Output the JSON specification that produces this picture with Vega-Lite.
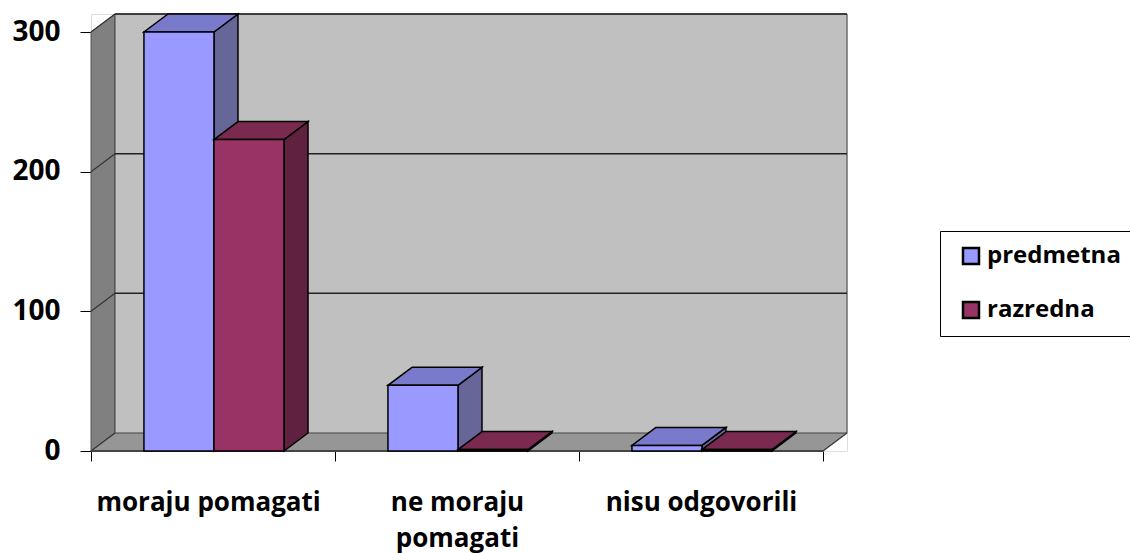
{
"$schema":"https://vega.github.io/schema/vega-lite/v6.json",
"width":756,"height":437,
"autosize":{"type":"none"},
"padding":{"left":91,"top":14,"right":283,"bottom":102},
"background":"white",
"data":{"values":[
{"category":"moraju pomagati","series":"predmetna","value":300},
{"category":"moraju pomagati","series":"razredna","value":223},
{"category":"ne moraju pomagati","series":"predmetna","value":47},
{"category":"ne moraju pomagati","series":"razredna","value":1},
{"category":"nisu odgovorili","series":"predmetna","value":4},
{"category":"nisu odgovorili","series":"razredna","value":1}
]},
"transform":[
{"calculate":"indexof(['moraju pomagati','ne moraju pomagati','nisu odgovorili'],datum.category)+(datum.series==='predmetna'?0.217:0.504)","as":"xl"},
{"calculate":"datum.xl+0.287","as":"xr"},
{"calculate":"[0,1]","as":"t"},
{"flatten":["t"]},
{"calculate":"datum.xr+datum.t*0.0984","as":"sx"},
{"calculate":"datum.value+datum.t*12.89","as":"sy"},
{"calculate":"datum.t*12.89","as":"sy0"},
{"calculate":"datum.xl+datum.t*0.0984","as":"tl"}
],
"encoding":{},
"layer":[
{"data":{"values":[{"k":0},{"k":1}]},
 "transform":[{"calculate":"datum.k*0.0984","as":"x"},{"calculate":"datum.k*12.89","as":"y"},{"calculate":"datum.y+300","as":"yt"}],
 "mark":{"type":"area","fill":"#808080","stroke":"#555555","strokeWidth":1,"orient":"vertical"},
 "encoding":{
  "x":{"field":"x","type":"quantitative","scale":{"domain":[0,3.0984],"nice":false,"zero":false},
   "axis":{"title":null,"grid":false,"domain":false,"values":[0,1,2,3,0.48,1.5,2.5],"tickSize":10,"tickColor":"#000000",
    "tickOpacity":{"condition":{"test":"datum.value%1===0","value":1},"value":0},
    "labelExpr":"datum.value===0.48?'moraju pomagati':datum.value===1.5?['ne moraju','pomagati']:datum.value===2.5?'nisu odgovorili':''",
    "labelFont":"Open Sans","labelFontWeight":"bold","labelFontSize":26,"labelColor":"#000000","labelPadding":28,"labelOverlap":false,"labelBound":false,"labelFlush":false,"labelLimit":400,"labelLineHeight":36,"labelAngle":0}},
  "y":{"field":"y","type":"quantitative","scale":{"domain":[0,312.89],"nice":false,"zero":false},
   "axis":{"title":null,"grid":false,"domain":false,"values":[0,100,200,300],"tickSize":11,"tickColor":"#000000",
    "labelFont":"Open Sans","labelFontWeight":"bold","labelFontSize":28,"labelColor":"#000000","labelPadding":20}},
  "y2":{"field":"yt"}
 }},
{"data":{"values":[{"k":0},{"k":1}]},
 "transform":[{"calculate":"datum.k*12.89","as":"y"},{"calculate":"datum.k*0.0984","as":"xa"},{"calculate":"datum.xa+3","as":"xb"}],
 "mark":{"type":"area","orient":"horizontal","fill":"#969696"},
 "encoding":{"y":{"field":"y","type":"quantitative"},"x":{"field":"xa","type":"quantitative"},"x2":{"field":"xb"}}},
{"data":{"values":[{"b":0}]},
 "transform":[{"calculate":"0.0984","as":"x1"},{"calculate":"3.0984","as":"x2"},{"calculate":"12.89","as":"y1"},{"calculate":"312.89","as":"y2"}],
 "mark":{"type":"rect","fill":"#c0c0c0","stroke":"#444444","strokeWidth":1},
 "encoding":{"x":{"field":"x1","type":"quantitative"},"x2":{"field":"x2"},"y":{"field":"y1","type":"quantitative"},"y2":{"field":"y2"}}},
{"data":{"values":[{"v":100},{"v":200},{"v":300}]},
 "transform":[{"calculate":"datum.v+12.89","as":"yb"},{"calculate":"0.0984","as":"x1"},{"calculate":"3.0984","as":"x2"}],
 "mark":{"type":"rule","color":"#222222","strokeWidth":1.5},
 "encoding":{"x":{"field":"x1","type":"quantitative"},"x2":{"field":"x2"},"y":{"field":"yb","type":"quantitative"}}},
{"data":{"values":[{"v":0},{"v":100},{"v":200},{"v":300}]},
 "transform":[{"calculate":"datum.v+12.89","as":"yb"},{"calculate":"0","as":"x1"},{"calculate":"0.0984","as":"x2"}],
 "mark":{"type":"rule","color":"#333333","strokeWidth":1.2},
 "encoding":{"x":{"field":"x1","type":"quantitative"},"x2":{"field":"x2"},"y":{"field":"v","type":"quantitative"},"y2":{"field":"yb"}}},
{"data":{"values":[{"v":0}]},
 "transform":[{"calculate":"3","as":"x1"},{"calculate":"3.0984","as":"x2"},{"calculate":"12.89","as":"yb"},{"calculate":"0","as":"x0"}],
 "layer":[
  {"mark":{"type":"rule","color":"#333333","strokeWidth":1.2},
   "encoding":{"x":{"field":"x1","type":"quantitative"},"x2":{"field":"x2"},"y":{"field":"v","type":"quantitative"},"y2":{"field":"yb"}}},
  {"mark":{"type":"rule","color":"#444444","strokeWidth":2},
   "encoding":{"x":{"field":"x0","type":"quantitative"},"x2":{"field":"x1"},"y":{"field":"v","type":"quantitative"}}}
 ]},
{"transform":[{"filter":"datum.series==='predmetna'"}],
 "mark":{"type":"area","fill":"#666699","stroke":"#000000","strokeWidth":1.5,"orient":"vertical"},
 "encoding":{"detail":{"field":"category"},"x":{"field":"sx","type":"quantitative"},"y":{"field":"sy","type":"quantitative","stack":null},"y2":{"field":"sy0"}}},
{"transform":[{"filter":"datum.series==='predmetna'"},{"calculate":"datum.tl+0.287","as":"tr"}],
 "mark":{"type":"area","fill":"#7a7acc","stroke":"#000000","strokeWidth":1.5,"orient":"horizontal"},
 "encoding":{"detail":{"field":"category"},"y":{"field":"sy","type":"quantitative"},"x":{"field":"tl","type":"quantitative","stack":null},"x2":{"field":"tr"}}},
{"transform":[{"filter":"datum.series==='predmetna'&&datum.t===0"},{"calculate":"0","as":"y0"}],
 "mark":{"type":"rect","stroke":"#000000","strokeWidth":1.5},
 "encoding":{"x":{"field":"xl","type":"quantitative"},"x2":{"field":"xr"},"y":{"field":"value","type":"quantitative"},"y2":{"field":"y0"},
  "fill":{"field":"series","type":"nominal","scale":{"domain":["predmetna","razredna"],"range":["#9999ff","#993366"]},
   "legend":{"title":null,"orient":"none","legendX":849,"legendY":217,"symbolType":"square","symbolSize":256,"symbolStrokeColor":"#000000","symbolStrokeWidth":2.5,"strokeColor":"#000000","fillColor":"#ffffff","padding":13,"rowPadding":28,"labelFont":"Open Sans","labelFontWeight":"bold","labelFontSize":24,"labelColor":"#000000","labelOffset":4,"symbolOffset":6,"labelLimit":300}}}},
{"transform":[{"filter":"datum.series==='razredna'"}],
 "mark":{"type":"area","fill":"#60203f","stroke":"#000000","strokeWidth":1.5,"orient":"vertical"},
 "encoding":{"detail":{"field":"category"},"x":{"field":"sx","type":"quantitative"},"y":{"field":"sy","type":"quantitative","stack":null},"y2":{"field":"sy0"}}},
{"transform":[{"filter":"datum.series==='razredna'"},{"calculate":"datum.tl+0.287","as":"tr"}],
 "mark":{"type":"area","fill":"#7a294f","stroke":"#000000","strokeWidth":1.5,"orient":"horizontal"},
 "encoding":{"detail":{"field":"category"},"y":{"field":"sy","type":"quantitative"},"x":{"field":"tl","type":"quantitative","stack":null},"x2":{"field":"tr"}}},
{"transform":[{"filter":"datum.series==='razredna'&&datum.t===0"},{"calculate":"0","as":"y0"}],
 "mark":{"type":"rect","stroke":"#000000","strokeWidth":1.5},
 "encoding":{"x":{"field":"xl","type":"quantitative"},"x2":{"field":"xr"},"y":{"field":"value","type":"quantitative"},"y2":{"field":"y0"},
  "fill":{"field":"series","type":"nominal"}}}
]
}
